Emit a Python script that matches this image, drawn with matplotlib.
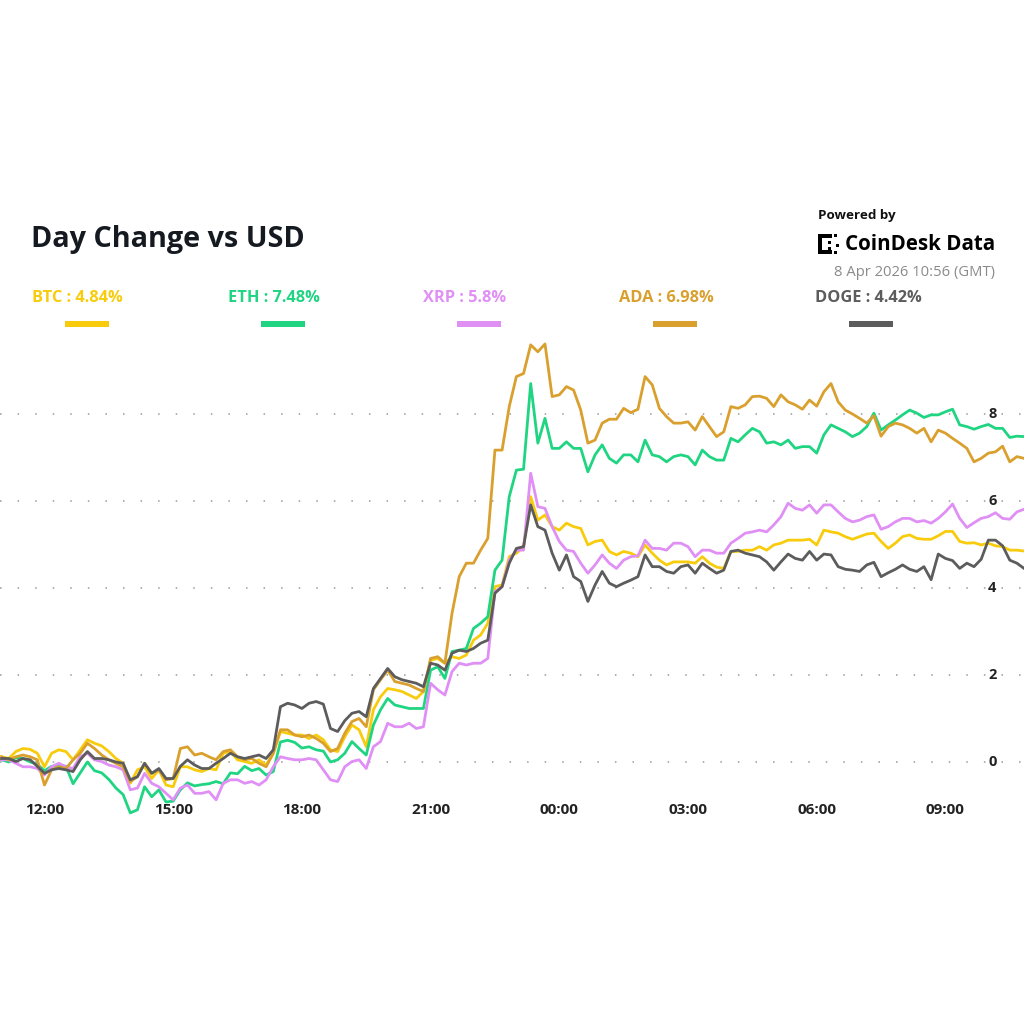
import matplotlib
matplotlib.use('Agg')
import matplotlib.pyplot as plt
import matplotlib.dates as mdates
from matplotlib.patches import Rectangle
import pandas as pd

plt.rcParams['font.family'] = ['Open Sans', 'DejaVu Sans']

# 10-minute samples, 7 Apr 11:00 -> 8 Apr 10:50 (GMT)
times = pd.date_range('2026-04-07 11:00', periods=144, freq='10min')

btc = [0.12, 0.08, 0.24, 0.31, 0.29, 0.20, -0.11, 0.20, 0.28, 0.24, 0.05, 0.28,
       0.51, 0.43, 0.37, 0.24, 0.08, -0.03, -0.49, -0.18, -0.11, -0.38, -0.18, -0.53,
       -0.57, -0.11, -0.11, -0.18, -0.22, -0.15, -0.18, 0.20, 0.24, 0.05, 0.01, -0.03,
       0.05, -0.07, 0.20, 0.70, 0.66, 0.62, 0.62, 0.54, 0.62, 0.51, 0.28, 0.24,
       0.58, 0.85, 0.74, 0.35, 1.20, 1.50, 1.69, 1.66, 1.62, 1.54, 1.46, 1.62,
       2.34, 2.38, 2.27, 2.42, 2.38, 2.46, 2.80, 2.92, 3.19, 4.03, 4.07, 4.72,
       4.80, 4.95, 6.10, 5.56, 5.68, 5.41, 5.33, 5.49, 5.41, 5.37, 4.99, 5.07,
       5.10, 4.84, 4.76, 4.84, 4.80, 4.72, 4.99, 4.80, 4.64, 4.53, 4.60, 4.60,
       4.60, 4.57, 4.72, 4.57, 4.48, 4.45, 4.84, 4.84, 4.87, 4.87, 4.95, 4.87,
       4.99, 5.03, 5.10, 5.10, 5.10, 5.12, 4.99, 5.33, 5.29, 5.26, 5.18, 5.12,
       5.18, 5.24, 5.26, 5.07, 4.91, 5.03, 5.18, 5.22, 5.14, 5.12, 5.12, 5.20,
       5.30, 5.30, 5.07, 5.03, 5.04, 4.99, 5.03, 4.97, 4.95, 4.87, 4.87, 4.85]

eth = [0.05, 0.00, 0.10, 0.08, 0.00, -0.05, -0.20, -0.10, -0.08, -0.10, -0.50, -0.25,
       0.00, -0.20, -0.25, -0.40, -0.60, -0.75, -1.17, -1.10, -0.57, -0.80, -0.64, -0.92,
       -0.90, -0.64, -0.48, -0.55, -0.52, -0.50, -0.45, -0.50, -0.25, -0.27, -0.10, -0.20,
       -0.15, -0.30, -0.22, 0.46, 0.50, 0.45, 0.32, 0.35, 0.28, 0.25, 0.00, 0.05,
       0.20, 0.47, 0.31, 0.16, 0.85, 1.20, 1.46, 1.31, 1.27, 1.23, 1.23, 1.23,
       2.11, 2.19, 1.92, 2.54, 2.57, 2.61, 3.07, 3.19, 3.34, 4.41, 4.64, 6.10,
       6.71, 6.73, 8.70, 7.33, 7.90, 7.21, 7.21, 7.36, 7.21, 7.21, 6.67, 7.06,
       7.29, 6.98, 6.87, 7.06, 7.06, 6.90, 7.40, 7.06, 7.02, 6.90, 7.02, 7.06,
       7.02, 6.83, 7.17, 7.02, 6.94, 6.94, 7.44, 7.36, 7.52, 7.67, 7.59, 7.33,
       7.36, 7.29, 7.40, 7.21, 7.25, 7.25, 7.10, 7.52, 7.75, 7.67, 7.59, 7.48,
       7.56, 7.71, 8.02, 7.63, 7.75, 7.86, 7.98, 8.09, 8.02, 7.92, 7.98, 7.98,
       8.05, 8.11, 7.75, 7.71, 7.65, 7.71, 7.76, 7.67, 7.67, 7.46, 7.49, 7.48]

xrp = [0.05, 0.05, -0.03, -0.11, -0.11, -0.15, -0.30, -0.11, -0.03, -0.11, -0.15, 0.12,
       0.20, 0.05, 0.01, -0.07, -0.11, -0.18, -0.64, -0.60, -0.26, -0.49, -0.57, -0.72,
       -0.87, -0.60, -0.53, -0.72, -0.72, -0.68, -0.87, -0.49, -0.41, -0.41, -0.49, -0.45,
       -0.53, -0.41, -0.11, 0.12, 0.08, 0.05, 0.05, 0.08, 0.05, -0.18, -0.41, -0.45,
       -0.11, 0.01, 0.05, -0.15, 0.35, 0.47, 0.89, 0.81, 0.81, 0.89, 0.77, 0.81,
       1.81, 1.66, 1.54, 2.08, 2.27, 2.23, 2.27, 2.27, 2.38, 3.92, 4.03, 4.64,
       4.87, 4.87, 6.64, 5.87, 5.83, 5.41, 5.07, 4.87, 4.84, 4.57, 4.34, 4.53,
       4.76, 4.57, 4.45, 4.64, 4.72, 4.74, 5.10, 4.91, 4.91, 4.87, 5.03, 5.03,
       4.95, 4.72, 4.87, 4.87, 4.80, 4.80, 5.03, 5.14, 5.26, 5.29, 5.33, 5.29,
       5.45, 5.64, 5.95, 5.83, 5.79, 5.91, 5.72, 5.91, 5.91, 5.75, 5.60, 5.52,
       5.56, 5.64, 5.68, 5.35, 5.41, 5.52, 5.60, 5.60, 5.52, 5.55, 5.49, 5.60,
       5.75, 5.93, 5.60, 5.39, 5.50, 5.60, 5.64, 5.73, 5.60, 5.58, 5.75, 5.81]

ada = [0.12, 0.05, 0.12, 0.16, 0.12, 0.05, -0.53, -0.18, -0.11, -0.15, 0.05, 0.20,
       0.43, 0.31, 0.16, 0.05, -0.03, -0.11, -0.45, -0.34, -0.03, -0.26, -0.18, -0.41,
       -0.38, 0.31, 0.35, 0.16, 0.20, 0.12, 0.05, 0.24, 0.28, 0.12, 0.05, 0.08,
       -0.03, -0.11, 0.20, 0.74, 0.74, 0.62, 0.58, 0.62, 0.54, 0.43, 0.24, 0.31,
       0.66, 0.93, 1.00, 0.81, 1.66, 1.89, 2.11, 1.85, 1.81, 1.77, 1.69, 1.62,
       2.38, 2.42, 2.27, 3.42, 4.26, 4.57, 4.57, 4.87, 5.14, 7.17, 7.17, 8.17,
       8.86, 8.93, 9.59, 9.43, 9.61, 8.40, 8.44, 8.63, 8.55, 8.09, 7.33, 7.40,
       7.79, 7.88, 7.88, 8.13, 8.03, 8.11, 8.86, 8.67, 8.13, 7.94, 7.79, 7.79,
       7.82, 7.63, 7.94, 7.71, 7.48, 7.59, 8.17, 8.13, 8.21, 8.40, 8.41, 8.36,
       8.17, 8.44, 8.28, 8.21, 8.11, 8.32, 8.18, 8.51, 8.70, 8.28, 8.09, 8.00,
       7.90, 7.79, 7.96, 7.49, 7.71, 7.79, 7.75, 7.67, 7.56, 7.67, 7.36, 7.63,
       7.56, 7.44, 7.33, 7.21, 6.90, 6.98, 7.10, 7.13, 7.26, 6.90, 7.02, 6.98]

doge = [0.08, 0.08, 0.01, 0.08, 0.05, -0.10, -0.26, -0.18, -0.15, -0.18, -0.22, 0.05,
        0.24, 0.08, 0.08, 0.05, 0.00, -0.03, -0.41, -0.34, -0.03, -0.26, -0.15, -0.38,
        -0.38, -0.10, 0.05, -0.07, -0.15, -0.15, -0.03, 0.08, 0.20, 0.12, 0.08, 0.12,
        0.16, 0.08, 0.28, 1.27, 1.35, 1.31, 1.23, 1.35, 1.39, 1.33, 0.77, 0.70,
        0.95, 1.12, 1.16, 1.04, 1.69, 1.92, 2.15, 1.96, 1.89, 1.85, 1.81, 1.73,
        2.27, 2.23, 2.11, 2.50, 2.57, 2.54, 2.61, 2.73, 2.80, 3.88, 4.03, 4.57,
        4.91, 4.95, 5.91, 5.41, 5.33, 4.80, 4.41, 4.76, 4.26, 4.15, 3.69, 4.07,
        4.38, 4.11, 4.03, 4.11, 4.18, 4.26, 4.76, 4.49, 4.49, 4.38, 4.34, 4.49,
        4.53, 4.34, 4.57, 4.45, 4.34, 4.41, 4.84, 4.87, 4.80, 4.76, 4.72, 4.60,
        4.41, 4.60, 4.78, 4.68, 4.64, 4.84, 4.64, 4.78, 4.76, 4.49, 4.43, 4.41,
        4.38, 4.53, 4.59, 4.26, 4.35, 4.43, 4.53, 4.43, 4.38, 4.49, 4.19, 4.78,
        4.68, 4.63, 4.45, 4.57, 4.49, 4.66, 5.10, 5.10, 4.97, 4.64, 4.57, 4.45]

names = ['BTC', 'ETH', 'XRP', 'ADA', 'DOGE']
changes = ['4.84%', '7.48%', '5.8%', '6.98%', '4.42%']
colors = ['#f8cc0c', '#1fd582', '#e08ff5', '#d9a02e', '#5c5c5c']
series = [btc, eth, xrp, ada, doge]

yticks = [0, 2, 4, 6, 8]
xtick_times = pd.date_range('2026-04-07 12:00', periods=8, freq='3h')

fig = plt.figure(figsize=(10.24, 10.24), dpi=100)
W = H = 1024.0

# plot area in pixels: top 330, bottom 797
ax = fig.add_axes([0, 1 - 797 / H, 1, (797 - 330) / H])
for vals, c in zip(series, colors):
    ax.plot(times, vals, color=c, lw=2.0, solid_joinstyle='round', clip_on=False, zorder=3)

ax.set_ylim(-0.805, 9.931)
x_left = pd.Timestamp('2026-04-07 12:00') - pd.Timedelta(minutes=62.2)
x_right = pd.Timestamp('2026-04-07 12:00') + pd.Timedelta(hours=22.832)
ax.set_xlim(x_left, x_right)

for v in yticks:
    ax.axhline(v, color='#9a9a9a', lw=1.1, ls=(0, (1, 10.5)), zorder=1)
    ax.text(0.969, v, str(v), transform=ax.get_yaxis_transform(), ha='center', va='center',
            fontsize=10.5, fontweight='bold', color='#222222', zorder=4,
            bbox=dict(facecolor='white', edgecolor='none', pad=1.5))
ax.set_yticks([])

ax.set_xticks(xtick_times)
ax.xaxis.set_major_formatter(mdates.DateFormatter('%H:%M'))
ax.tick_params(axis='x', length=0, pad=4, labelsize=11, labelcolor='#222222')
for lab in ax.get_xticklabels():
    lab.set_fontweight('bold')
for s in ax.spines.values():
    s.set_visible(False)
ax.patch.set_alpha(0)

# title
fig.text(31 / W, 1 - 239 / H, 'Day Change vs USD', fontsize=20.7, fontweight='bold',
         color='#151a21', ha='left', va='center')

# legend
for i, (n, ch, c) in enumerate(zip(names, changes, colors)):
    x0 = 32 + 195.7 * i
    fig.text(x0 / W, 1 - 298 / H, f'{n} : {ch}', fontsize=11.8, fontweight='bold',
             color=c, ha='left', va='center')
    sx = 65 + 196 * i
    fig.add_artist(Rectangle((sx / W, 1 - 327 / H), 44 / W, 6 / H,
                             transform=fig.transFigure, color=c, lw=0))

# branding
fig.text(818 / W, 1 - 215 / H, 'Powered by', fontsize=9.6, fontweight='bold',
         color='#111111', ha='left', va='center')
fig.text(845 / W, 1 - 245 / H, 'CoinDesk Data', fontsize=14.8, fontweight='bold',
         color='#000000', ha='left', va='center')
icon = [(818, 234, 4, 20), (818, 234, 14, 4), (818, 250, 14, 4),
        (834, 234, 3, 3), (834, 251, 3, 3),
        (828, 241, 3, 3), (828, 247, 3, 3), (836, 244, 3, 3)]
for (ix, iy, iw, ih) in icon:
    fig.add_artist(Rectangle((ix / W, 1 - (iy + ih) / H), iw / W, ih / H,
                             transform=fig.transFigure, color='#000000', lw=0))
fig.text(995 / W, 1 - 272 / H, '8 Apr 2026 10:56 (GMT)', fontsize=10.6,
         color='#8a8a8a', ha='right', va='center')

fig.savefig('out.png', dpi=100, facecolor='white')
